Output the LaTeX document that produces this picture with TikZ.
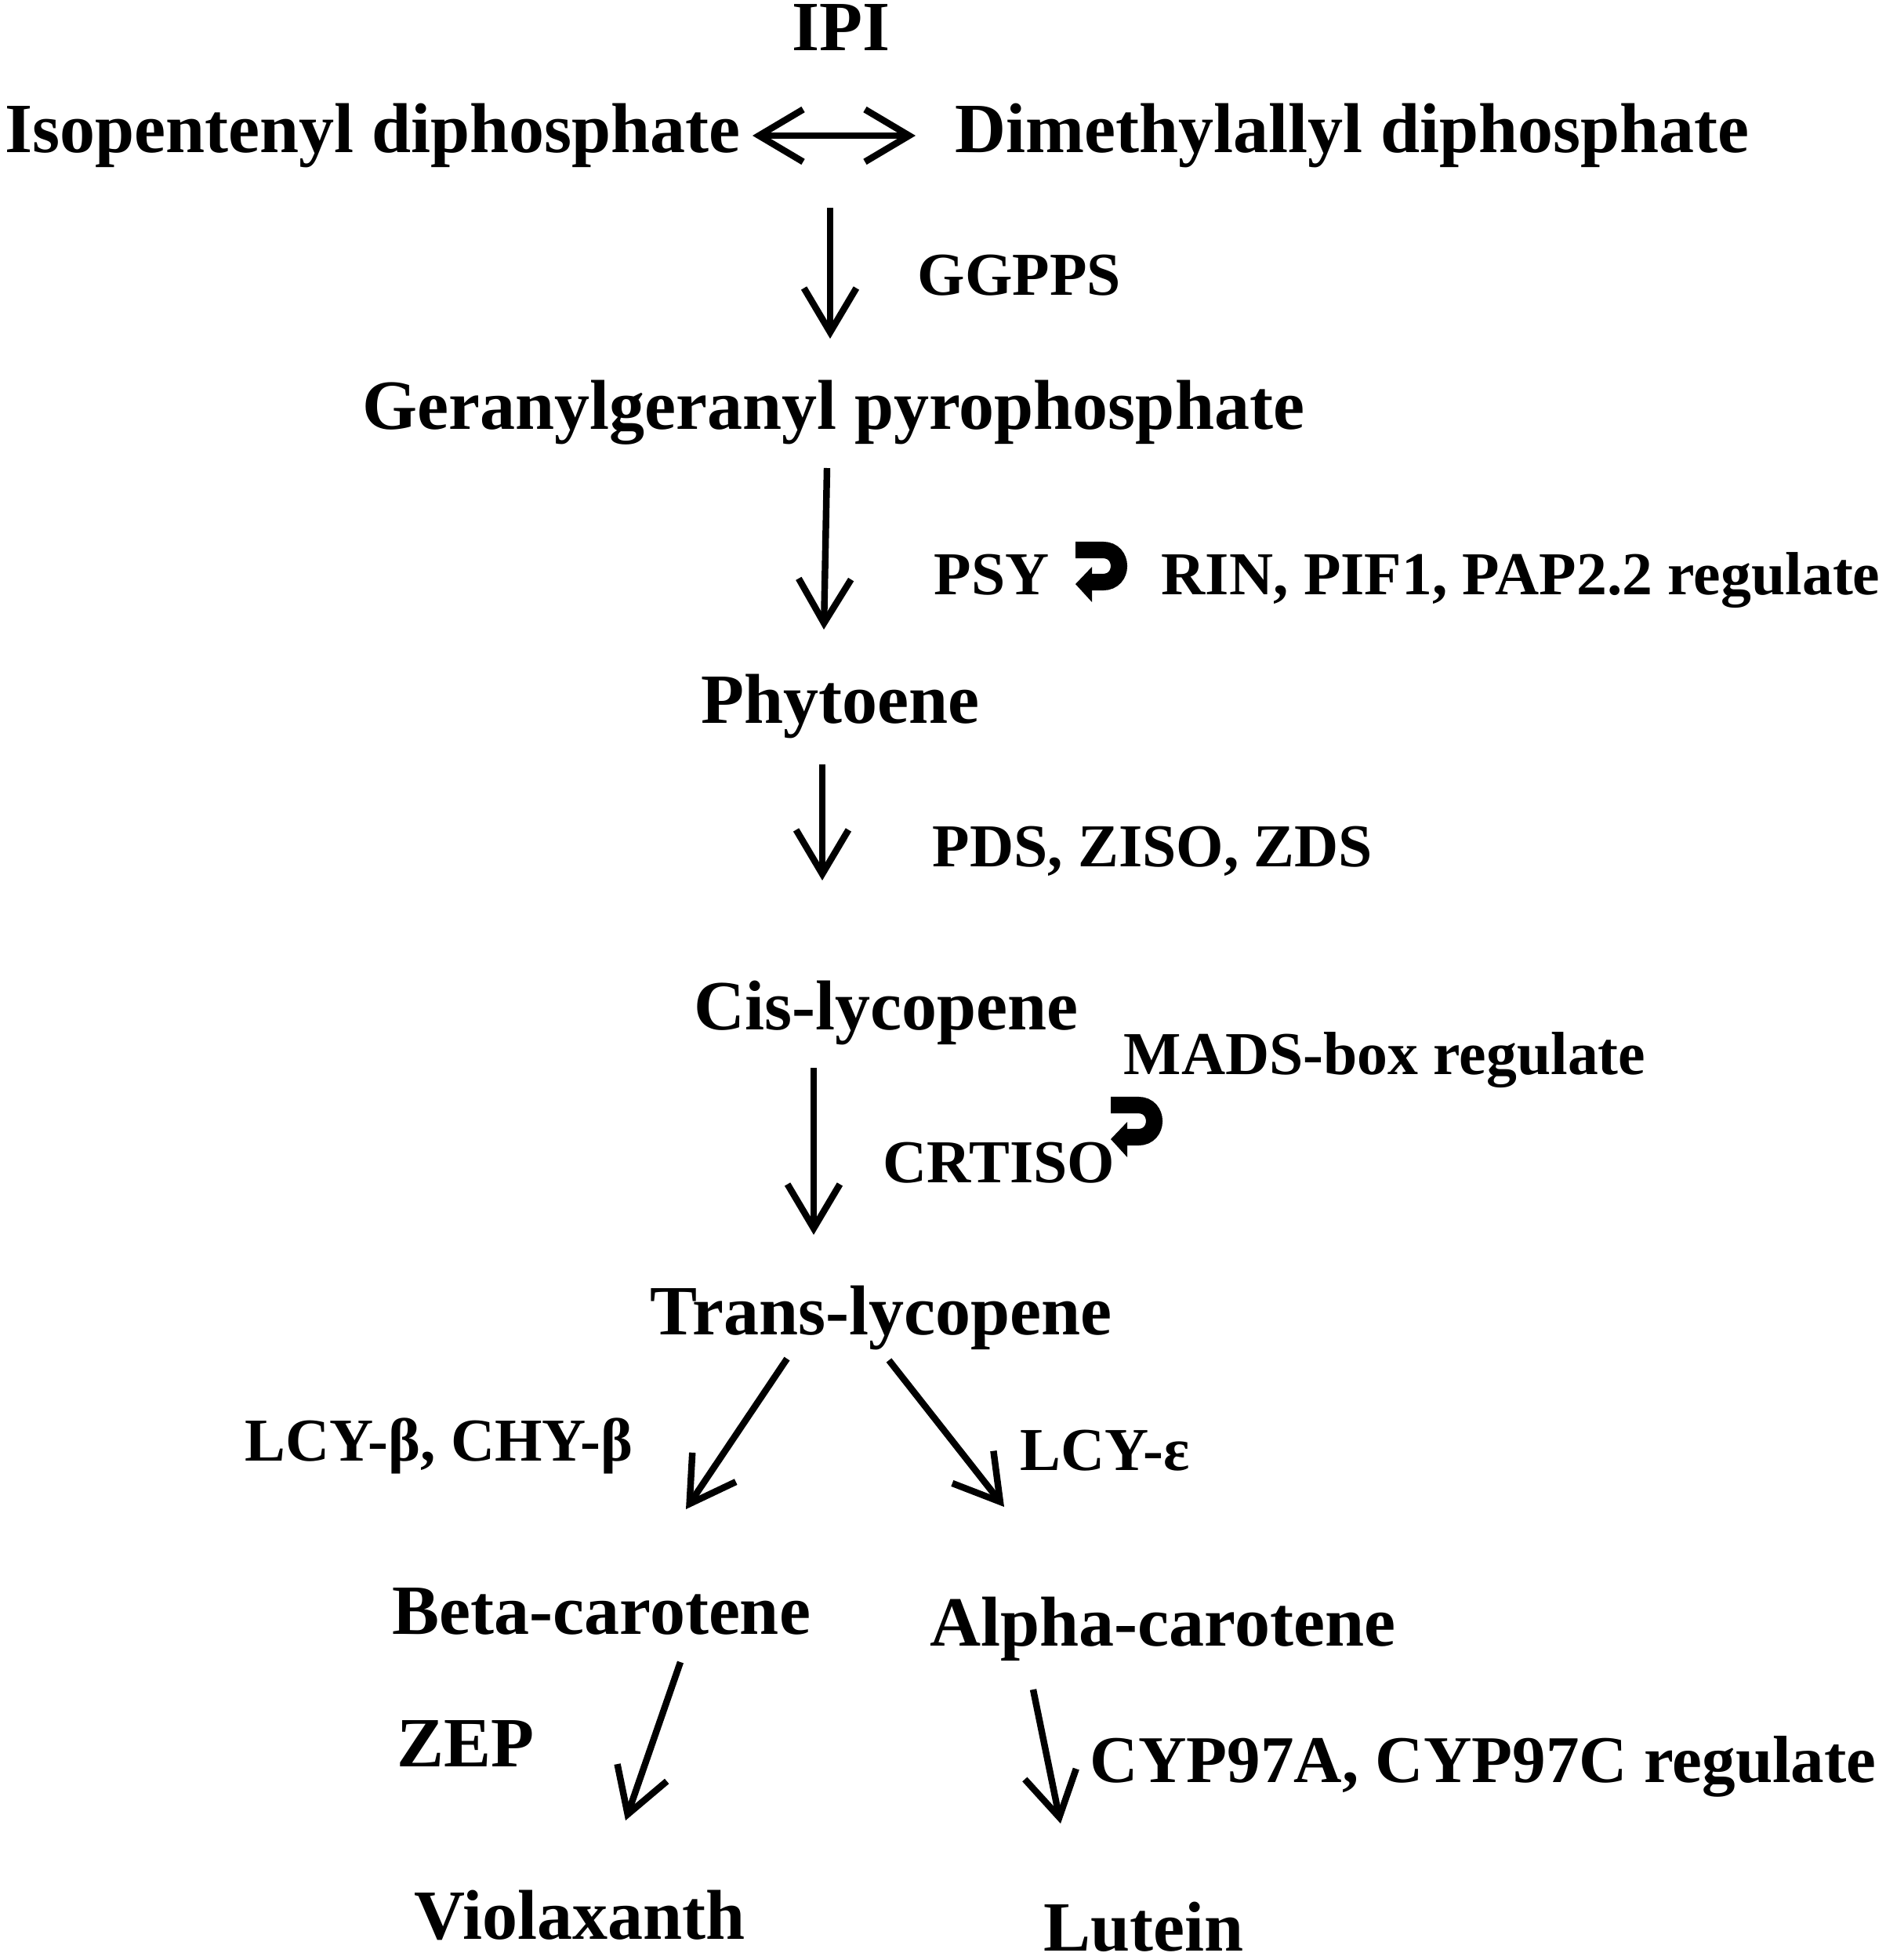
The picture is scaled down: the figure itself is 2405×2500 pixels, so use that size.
\documentclass[tikz,border=0pt]{standalone}
\usepackage{fontspec}
\setmainfont{Liberation Serif}
\usetikzlibrary{arrows.meta}
\tikzset{
  big/.style={font=\fontsize{25.6}{30}\selectfont\bfseries, inner sep=0pt, anchor=base west},
  small/.style={font=\fontsize{22.1}{26}\selectfont\bfseries, inner sep=0pt, anchor=base west},
  flow/.style={line width=2.4pt, -{Straight Barb[length=16pt,width=19pt]}},
  flowboth/.style={line width=2.4pt, {Straight Barb[length=16pt,width=19pt]}-{Straight Barb[length=16pt,width=19pt]}},
  regarrow/.pic={
    \draw[line width=6pt] (0,11.5) -- (35,11.5)
       .. controls (62.3,11.5) and (62.3,52.5) .. (35,52.5) -- (20,52.5);
    \fill (0,55) -- (21,33) -- (21,78) -- cycle;
  }
}
\begin{document}
\begin{tikzpicture}[x=0.01cm, y=-0.01cm]
\useasboundingbox (0,0) rectangle (2405,2500);

% compounds
\node[big] (nIPI)   at (1010,65)   {IPI};
\node[big] (nIPP)   at (6,195)     {Isopentenyl diphosphate};
\node[big] (nDMAPP) at (1218,195)  {Dimethylallyl diphosphate};
\node[big] (nGGPP)  at (462,547)   {Geranylgeranyl pyrophosphate};
\node[big] (nPhy)   at (894,922)   {Phytoene};
\node[big] (nCis)   at (885,1313)  {Cis-lycopene};
\node[big] (nTrans) at (829,1702)  {Trans-lycopene};
\node[big] (nBeta)  at (500,2084)  {Beta-carotene};
\node[big] (nAlpha) at (1186,2099) {Alpha-carotene};
\node[big] (nViol)  at (528,2473)  {Violaxanth};
\node[big] (nLut)   at (1331,2488) {Lutein};

% enzymes / regulators
\node[small] (nGGPPS) at (1170,376)  {GGPPS};
\node[small] (nPSY)   at (1191,758)  {PSY};
\node[small] (nRIN)   at (1481,758)  {RIN, PIF1, PAP2.2 regulate};
\node[small] (nPDS)   at (1189,1105) {PDS, ZISO, ZDS};
\node[small] (nMADS)  at (1433,1370) {MADS-box regulate};
\node[small] (nCRT)   at (1126,1508) {CRTISO};
\node[small] (nLCYb)  at (312,1863)  {LCY-β, CHY-β};
\node[small] (nLCYe)  at (1301,1875) {LCY-ε};
\node[big]   (nZEP)   at (506,2253)  {ZEP};
\node[big, font=\fontsize{24.2}{29}\selectfont\bfseries] (nCYP) at (1390,2273) {CYP97A, CYP97C regulate};

% regulation symbols
\pic at (1372,690) {regarrow};
\pic at (1417,1398) {regarrow};

% arrow end points
\coordinate (a0s) at (960,173);  \coordinate (a0e) at (1168,173);
\coordinate (a1s) at (1059,265); \coordinate (a1e) at (1059,432);
\coordinate (a2s) at (1055,597); \coordinate (a2e) at (1051,803);
\coordinate (a3s) at (1049,975); \coordinate (a3e) at (1049,1123);
\coordinate (a4s) at (1038,1362);\coordinate (a4e) at (1038,1575);
\coordinate (a5s) at (1004,1733);\coordinate (a5e) at (875,1925);
\coordinate (a6s) at (1134,1735);\coordinate (a6e) at (1281,1922);
\coordinate (a7s) at (868,2120); \coordinate (a7e) at (798,2322);
\coordinate (a8s) at (1318,2155);\coordinate (a8e) at (1353,2326);

\draw[flowboth] (a0s) -- (a0e);
\draw[flow] (a1s) -- (a1e);
\draw[flow] (a2s) -- (a2e);
\draw[flow] (a3s) -- (a3e);
\draw[flow] (a4s) -- (a4e);
\draw[flow] (a5s) -- (a5e);
\draw[flow] (a6s) -- (a6e);
\draw[flow] (a7s) -- (a7e);
\draw[flow] (a8s) -- (a8e);
\end{tikzpicture}
\end{document}
